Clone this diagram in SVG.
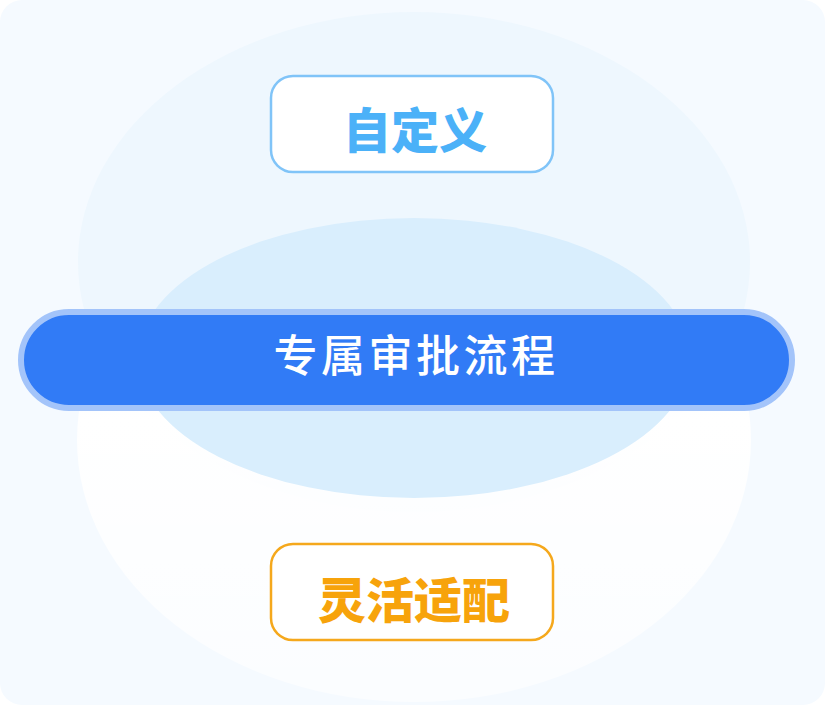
<svg xmlns="http://www.w3.org/2000/svg" width="825" height="705" viewBox="0 0 825 705">
  <defs>
    <linearGradient id="gWhite" x1="0" y1="0" x2="0" y2="1">
      <stop offset="0" stop-color="#ffffff" stop-opacity="0"/>
      <stop offset="0.29" stop-color="#ffffff" stop-opacity="0"/>
      <stop offset="0.46" stop-color="#ffffff" stop-opacity="1"/>
      <stop offset="1" stop-color="#ffffff" stop-opacity="0.6"/>
    </linearGradient>
    <style>
      .cjk { font-family: "Noto Sans CJK SC", "Noto Sans", sans-serif; text-anchor: middle; }
      .tag { fill: #ffffff; stroke-width: 2.5; }
    </style>
  </defs>

  <!-- background -->
  <rect x="0" y="0" width="825" height="705" rx="22" fill="#f5faff"/>
  <ellipse cx="414" cy="262" rx="336" ry="250" fill="#eef7fe"/>
  <ellipse cx="414" cy="440" rx="337" ry="262" fill="url(#gWhite)"/>
  <ellipse cx="414" cy="358" rx="276" ry="140" fill="#d9eefd"/>

  <g id="connectors"></g>

  <g id="node-custom">
    <rect class="tag" x="271" y="76" width="282" height="96" rx="22" stroke="#80c4f8"/>
    <text class="cjk" x="415" y="148" font-size="48" font-weight="900" fill="#4bb1f8">自定义</text>
  </g>

  <g id="node-main">
    <rect x="21" y="312" width="771" height="96" rx="48" fill="#317bf6" stroke="#a3c4fa" stroke-width="6"/>
    <text class="cjk" x="416" y="372" font-size="44" font-weight="500" letter-spacing="3.5" fill="#ffffff">专属审批流程</text>
  </g>

  <g id="node-flex">
    <rect class="tag" x="271" y="544" width="282" height="96" rx="22" stroke="#f5a81c"/>
    <text class="cjk" x="414" y="618" font-size="48" font-weight="900" fill="#f7a30b">灵活适配</text>
  </g>
</svg>
